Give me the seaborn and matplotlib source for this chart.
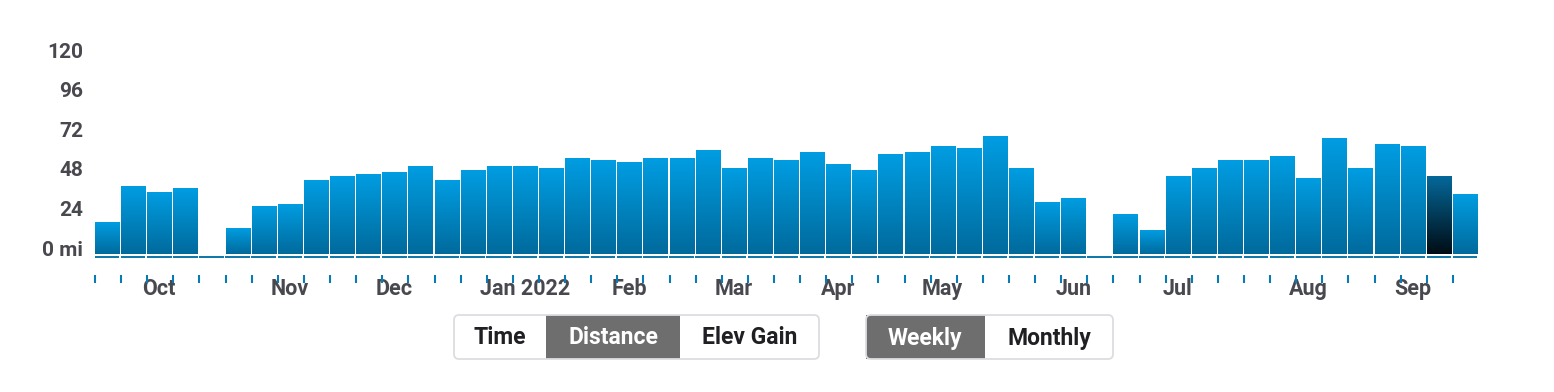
import numpy as np
import pandas as pd
import matplotlib
matplotlib.use('Agg')
import matplotlib.pyplot as plt
import matplotlib.patches as mpatches
import matplotlib.transforms as mtransforms
from matplotlib.colors import LinearSegmentedColormap
import seaborn as sns

# Weekly distance (mi), one bar per week, Sep 2021 - Sep 2022
week = list(range(53))
miles = [19.0, 40.8, 37.2, 39.6, 0.0, 15.3, 28.7, 29.9, 44.4, 46.8,
         48.1, 49.3, 52.9, 44.4, 50.5, 52.9, 52.9, 51.7, 57.8, 56.5,
         55.3, 57.8, 57.8, 62.6, 51.7, 57.8, 56.5, 61.4, 54.1, 50.5,
         60.2, 61.4, 65.0, 63.8, 71.1, 51.7, 31.1, 33.5, 0.0, 23.8,
         14.1, 46.8, 51.7, 56.5, 56.5, 59.0, 45.6, 69.9, 51.7, 66.2,
         65.0, 46.8, 35.9]
current_week = 51

# month labels sit under these weeks
month_weeks = [2, 7, 11, 16, 20, 24, 28, 32, 37, 41, 46, 50]
month_names = ['Oct', 'Nov', 'Dec', 'Jan 2022', 'Feb', 'Mar', 'Apr', 'May',
               'Jun', 'Jul', 'Aug', 'Sep']

y_ticks = [0, 24, 48, 72, 96, 120]
y_labels = ['0 mi', '24', '48', '72', '96', '120']

df = pd.DataFrame({'week': week, 'miles': miles})

sns.set_style('white')
plt.rcParams['font.family'] = ['Roboto', 'DejaVu Sans']

W, H = 1554, 392
fig = plt.figure(figsize=(W / 100, H / 100), dpi=100)
ax = fig.add_axes([94 / W, (H - 259) / H, (1478 - 94) / W, 211 / H])

bar_w = 0.92
sns.barplot(data=df, x='week', y='miles', ax=ax, width=bar_w,
            color='#0090d0', saturation=1, errorbar=None)

# gradient fill for each bar
grad = np.linspace(0, 1, 256).reshape(-1, 1)
blue = LinearSegmentedColormap.from_list('blue', ['#006a9c', '#009de2'])
dark = LinearSegmentedColormap.from_list('dark', ['#000c14', '#04689a'])
for i, p in enumerate(ax.patches):
    x0, h, w = p.get_x(), p.get_height(), p.get_width()
    p.set_facecolor('none')
    p.set_edgecolor('none')
    if h <= 0:
        continue
    ax.imshow(grad, origin='lower', aspect='auto',
              cmap=dark if i == current_week else blue,
              extent=[x0, x0 + w, 0, h], zorder=2)

ax.set_xlim(-0.5, 52.5)
ax.set_ylim(-3, 125)

# base line under the bars
for i in week:
    ax.plot([i - 0.5 + 0.03, i + 0.5 - 0.03], [-1.8, -1.8], color='#0a75a8',
            lw=1.4, solid_capstyle='butt', clip_on=False, zorder=3)

# week tick marks
for i in week:
    ax.plot([i - bar_w / 2, i - bar_w / 2], [-12.7, -17.3], color='#0a7ab5',
            lw=1.5, solid_capstyle='butt', clip_on=False, zorder=1)

ax.set_xticks(month_weeks)
ax.set_xticklabels(month_names)
ax.tick_params(axis='x', length=0, pad=14, labelsize=15.5, labelcolor='#48484f')
ax.set_yticks(y_ticks)
ax.set_yticklabels(y_labels)
ax.tick_params(axis='y', length=0, pad=8, labelsize=15, labelcolor='#48484f')
shift = mtransforms.ScaledTranslation(0, 6 / 100, fig.dpi_scale_trans)
for lab in ax.get_yticklabels():
    lab.set_fontweight('bold')
    lab.set_transform(lab.get_transform() + shift)
for lab in ax.get_xticklabels():
    lab.set_fontweight('bold')
    lab.set_zorder(5)
ax.set_xlabel('')
ax.set_ylabel('')
sns.despine(ax=ax, left=True, bottom=True)

# toggle buttons below the chart, drawn in pixel coordinates
ov = fig.add_axes([0, 0, 1, 1], zorder=-1)
ov.set_xlim(0, W)
ov.set_ylim(H, 0)
ov.axis('off')


def button_group(x0, x1, y0, y1, sel0, sel1, sel_left):
    r = 5
    ov.add_patch(mpatches.FancyBboxPatch((x0, y0), x1 - x0, y1 - y0,
                                         boxstyle=f'round,pad=0,rounding_size={r}',
                                         fc='white', ec='none'))
    ov.add_patch(mpatches.Rectangle((sel0, y0), sel1 - sel0, y1 - y0,
                                    fc='#6e6e6e', ec='none'))
    if sel_left:
        ov.add_patch(mpatches.FancyBboxPatch((x0, y0), sel1 - x0, y1 - y0,
                                             boxstyle=f'round,pad=0,rounding_size={r}',
                                             fc='#6e6e6e', ec='none'))
    ov.add_patch(mpatches.FancyBboxPatch((x0, y0), x1 - x0, y1 - y0,
                                         boxstyle=f'round,pad=0,rounding_size={r}',
                                         fc='none', ec='#dcdce2', lw=1.3))


button_group(454, 819, 315, 359, 546, 680, False)
button_group(866, 1113, 315, 359, 866, 985, True)

buttons = [('Time', 500, False), ('Distance', 613, True), ('Elev Gain', 750, False),
           ('Weekly', 925, True), ('Monthly', 1049, False)]
for text, xc, sel in buttons:
    ov.text(xc, 338, text, ha='center', va='center', fontsize=16.5,
            fontweight='bold', color='white' if sel else '#1f1f24')

fig.savefig('out.png', dpi=100, facecolor='white')
